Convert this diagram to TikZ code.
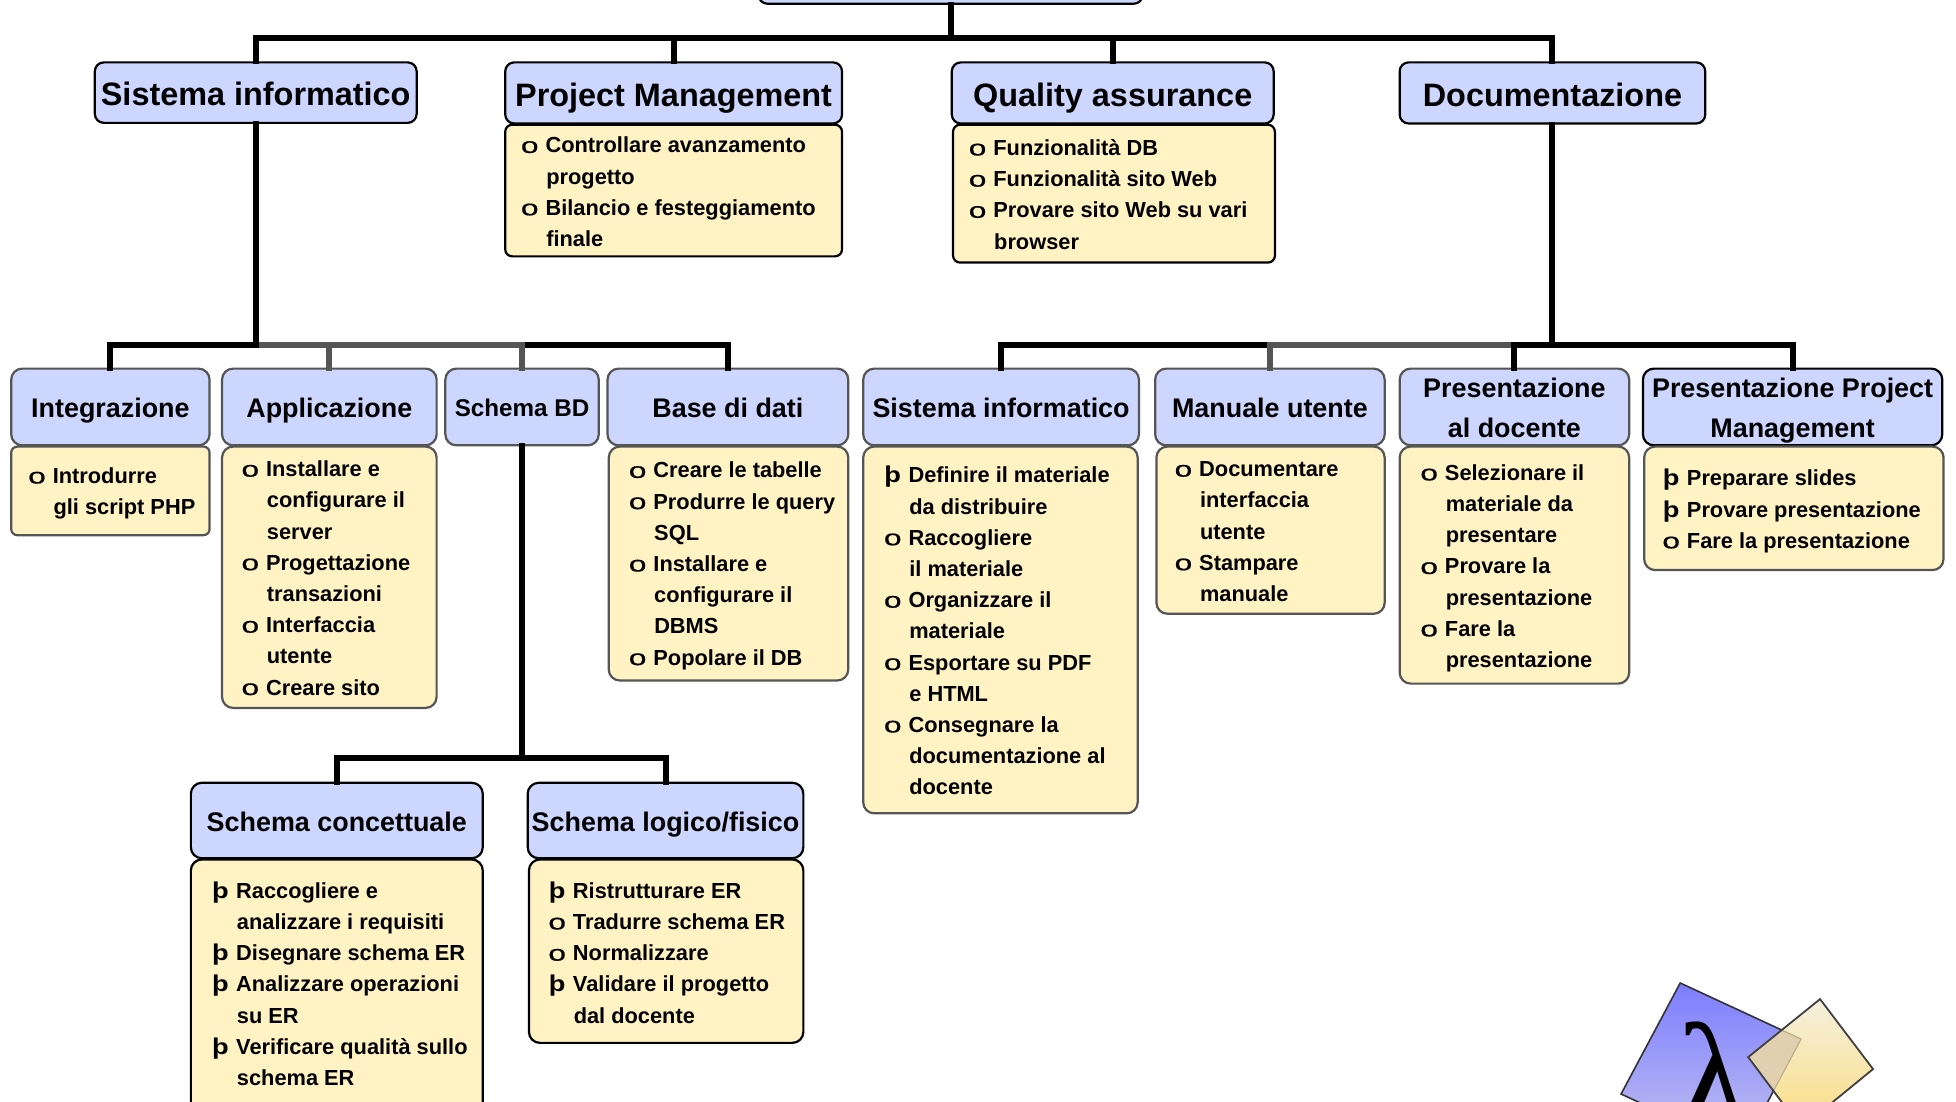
\documentclass[tikz,border=0pt]{standalone}
\usepackage{fontspec}
\setmainfont{Liberation Sans}
\newfontfamily\lamfont{Liberation Serif}
\newfontfamily\bulfont[FakeBold=0.6]{Liberation Sans}
\definecolor{hdblue}{RGB}{204,214,255}
\definecolor{bdyellow}{RGB}{255,243,196}
\definecolor{dgray}{RGB}{85,85,85}
\definecolor{logoAtop}{RGB}{125,125,255}
\definecolor{logoAbot}{RGB}{195,195,240}
\definecolor{logoBtop}{RGB}{245,240,222}
\definecolor{logoBbot}{RGB}{250,222,130}
\definecolor{logoOver}{RGB}{224,208,175}
\definecolor{logoLine}{RGB}{190,175,140}
\newcommand{\bo}{\rule{0pt}{8pt}\llap{\makebox[0pt][c]{\bulfont\mdseries\scalebox{1.45}[1]{o}}\hspace{7.9pt}}}
\newcommand{\bp}{\rule{0pt}{8pt}\llap{\makebox[0pt][c]{\scalebox{1.25}[1.05]{þ}}\hspace{7.9pt}}}
\newcommand{\cn}{\rule{0pt}{8pt}\hspace{.4pt}}
\newcommand{\hdbox}[7][]{%
  \pgfmathsetmacro{\wA}{(#5-#3)*0.6237}\pgfmathsetmacro{\hA}{(#6-#4)*0.6237}%
  \node[#1,minimum width=\wA pt,minimum height=\hA pt] (#2) at ({(#3+#5)/2},{(#4+#6)/2}) {\rule{0pt}{.81em}#7};}
\tikzset{
  x=0.6237pt,y=-0.6237pt,
  hd/.style={draw=black,line width=1.1pt,fill=hdblue,rounded corners=4.5pt,inner sep=0pt,align=center,
    font=\fontsize{16.2}{20}\selectfont\bfseries,text depth=0pt},
  hdk/.style={hd,rounded corners=5.5pt,font=\fontsize{13.45}{20}\selectfont\bfseries},
  hdb/.style={hdk,draw=dgray},
  bd/.style={hd,fill=bdyellow,font=\normalsize},
  bdk/.style={bd,rounded corners=5.5pt},
  bdb/.style={bdk,draw=dgray},
  lst/.style={anchor=north west,inner sep=0pt,yshift=4.1pt,align=left,
    font=\fontsize{10.9}{15.6}\selectfont\bfseries},
  conn/.style={line width=3pt,black,line cap=rect,line join=miter},
  conng/.style={conn,dgray},
}
\begin{document}
\begin{tikzpicture}
\clip (0,0) rectangle (1568,883.4);
\fill[white] (0,0) rectangle (1568,883.4);
\coordinate (bus1) at (0,30.5);
\coordinate (bus2) at (0,276.5);
\coordinate (bus3) at (0,607.5);
% boxes
\hdbox[hd]{root}{608}{-60}{916}{3}{}
\hdbox[hd]{si}{76}{50}{334}{98.5}{Sistema informatico}
\hdbox[hd]{pm}{405}{50}{675}{99}{Project Management}
\hdbox[hd]{qa}{763}{50}{1021}{99}{Quality assurance}
\hdbox[hd]{doc}{1122}{50}{1367}{99}{Documentazione}
\hdbox[bd,rounded corners=3.5pt]{pmb}{405}{100}{675}{205.5}{}
\hdbox[bd,rounded corners=3.5pt]{qab}{764}{100}{1022}{210.5}{}
\hdbox[hdb]{integ}{9}{295.5}{168}{357}{Integrazione}
\hdbox[hdb]{appl}{178}{295.5}{350}{357}{Applicazione}
\hdbox[hdb,font=\fontsize{12.1}{20}\selectfont\bfseries]{sbd}{357}{295.5}{480}{357}{Schema BD}
\hdbox[hdb]{base}{487}{295.5}{680}{357}{Base di dati}
\hdbox[hdb]{sis}{692}{295.5}{913}{357}{Sistema informatico}
\hdbox[hdb]{man}{926}{295.5}{1110}{357}{Manuale utente}
\hdbox[hdb]{pres}{1122}{295.5}{1306}{357}{Presentazione\\al docente}
\hdbox[hdk]{ppm}{1317}{295.5}{1557}{357}{Presentazione Project\\Management}
\hdbox[bdb,rounded corners=3pt]{integb}{9}{358}{168}{429}{}
\hdbox[bdb]{applb}{178}{358}{350}{567.5}{}
\hdbox[bdb]{baseb}{488}{358}{680}{545.5}{}
\hdbox[bdb]{sisb}{692}{358}{912}{652}{}
\hdbox[bdb]{manb}{927}{358}{1110}{492}{}
\hdbox[bdb]{presb}{1122}{358}{1306}{548}{}
\hdbox[bdb]{ppmb}{1318}{358}{1558}{457}{}
\hdbox[hdk]{sc}{153}{627.5}{387}{688}{Schema concettuale}
\hdbox[hdk]{sl}{423}{627.5}{644}{688}{Schema logico/fisico}
\hdbox[bdk]{scb}{153}{689}{387}{900}{}
\hdbox[bdk]{slb}{424}{689}{644}{836}{}
% connectors
\draw[conn] (root.south) -- (root.south |- bus1);
\draw[conn] (si.north) -- (si.north |- bus1) -- (doc.north |- bus1) -- (doc.north);
\draw[conn] (pm.north) -- (pm.north |- bus1);
\draw[conn] (qa.north) -- (qa.north |- bus1);
\draw[conn] (sbd.north |- bus2) -- (base.north |- bus2) -- (base.north);
\draw[conng] (si.south |- bus2) -- (sbd.north |- bus2);
\draw[conng] (appl.north) -- (appl.north |- bus2);
\draw[conng] (sbd.north) -- (sbd.north |- bus2);
\draw[conn] (integ.north) -- (integ.north |- bus2) -- (si.south |- bus2);
\draw[conn] (si.south) -- (si.south |- bus2);
\draw[conn] (sis.north) -- (sis.north |- bus2) -- (man.north |- bus2);
\draw[conng] (man.north) -- (man.north |- bus2) -- (pres.north |- bus2);
\draw[conn] (pres.north) -- (pres.north |- bus2) -- (ppm.north |- bus2) -- (ppm.north);
\draw[conn] (doc.south) -- (doc.south |- bus2);
\draw[conn] (sbd.south) -- (sbd.south |- bus3);
\draw[conn] (sc.north) -- (sc.north |- bus3) -- (sl.north |- bus3) -- (sl.north);
% list texts
\node[lst] (pmt) at (437,116) {\bo Controllare avanzamento\\\cn progetto\\\bo Bilancio e festeggiamento\\\cn finale};
\node[lst] (qat) at (796,118) {\bo Funzionalità DB\\\bo Funzionalità sito Web\\\bo Provare sito Web su vari\\\cn browser};
\node[lst] (intt) at (42,381) {\bo Introdurre\\\cn gli script PHP};
\node[lst] (appt) at (213,375.5) {\bo Installare e\\\cn configurare il\\\cn server\\\bo Progettazione\\\cn transazioni\\\bo Interfaccia\\\cn utente\\\bo Creare sito};
\node[lst] (bast) at (523.5,376.5) {\bo Creare le tabelle\\\bo Produrre le query\\\cn SQL\\\bo Installare e\\\cn configurare il\\\cn DBMS\\\bo Popolare il DB};
\node[lst] (sist) at (728,380) {\bp Definire il materiale\\\cn da distribuire\\\bo Raccogliere\\\cn il materiale\\\bo Organizzare il\\\cn materiale\\\bo Esportare su PDF\\\cn e HTML\\\bo Consegnare la\\\cn documentazione al\\\cn docente};
\node[lst] (mant) at (961,375.5) {\bo Documentare\\\cn interfaccia\\\cn utente\\\bo Stampare\\\cn manuale};
\node[lst] (prest) at (1158,378.5) {\bo Selezionare il\\\cn materiale da\\\cn presentare\\\bo Provare la\\\cn presentazione\\\bo Fare la\\\cn presentazione};
\node[lst] (ppmt) at (1352,382.5) {\bp Preparare slides\\\bp Provare presentazione\\\bo Fare la presentazione};
\node[lst] (sct) at (189,713) {\bp Raccogliere e\\\cn analizzare i requisiti\\\bp Disegnare schema ER\\\bp Analizzare operazioni\\\cn su ER\\\bp Verificare qualità sullo\\\cn schema ER};
\node[lst] (slt) at (459,713) {\bp Ristrutturare ER\\\bo Tradurre schema ER\\\bo Normalizzare\\\bp Validare il progetto\\\cn dal docente};
% logo
\coordinate (a1) at (1346.9,788.0);
\coordinate (a2) at (1443.8,832.9);
\coordinate (a3) at (1396.5,921.9);
\coordinate (a4) at (1299.5,877.0);
\coordinate (b1) at (1459.0,800.9);
\coordinate (b2) at (1501.5,857.0);
\coordinate (b3) at (1443.8,904.2);
\coordinate (b4) at (1401.4,847.4);
\shade[top color=logoAtop,bottom color=logoAbot,draw=black!80,line width=.8pt] (a1) -- (a2) -- (a3) -- (a4) -- cycle;
\node[font=\lamfont\fontsize{75}{75}\selectfont,anchor=base,inner sep=0pt] (lam) at (1374,904) {λ};
\shade[top color=logoBtop,bottom color=logoBbot] (b1) -- (b2) -- (b3) -- (b4) -- cycle;
\begin{scope}
\clip (b1) -- (b2) -- (b3) -- (b4) -- cycle;
\fill[logoOver] (a1) -- (a2) -- (a3) -- (a4) -- cycle;
\draw[logoLine,line width=.6pt] (a1) -- (a2) -- (a3);
\end{scope}
\draw[black!75,line width=.9pt] (b1) -- (b2) -- (b3) -- (b4) -- cycle;
\end{tikzpicture}
\end{document}
